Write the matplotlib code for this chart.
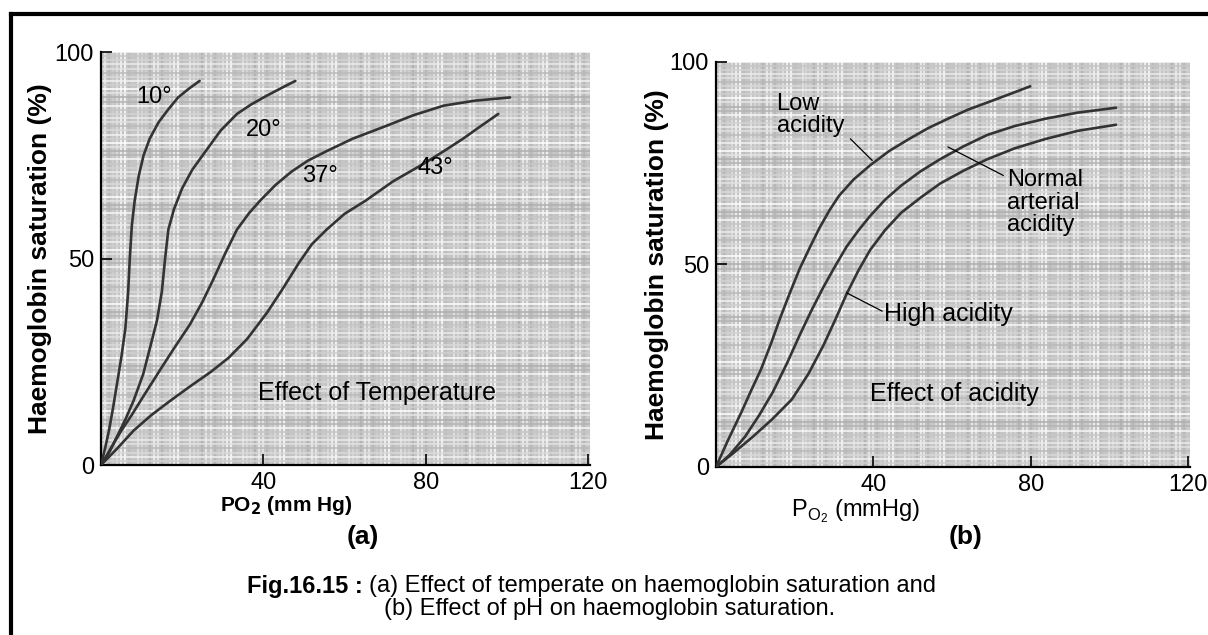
import matplotlib
matplotlib.use("Agg")
import matplotlib.pyplot as plt
from matplotlib.lines import Line2D

plt.rcParams["font.family"] = ["Liberation Sans", "DejaVu Sans"]

# (a) effect of temperature, PO2 (mm Hg) vs saturation (%)
t10_x = [0, 1, 2, 3, 4, 5, 6, 6.7, 7.1, 7.6, 8.3, 9.3, 10.5, 12, 14.2, 16.5, 19, 21.5, 24.3]
t10_y = [0, 4, 8.5, 14, 20, 26, 33, 42, 50, 58, 64, 70, 75, 79, 83, 86, 89, 91, 93]
t20_x = [0, 2, 4, 6, 8, 10.4, 12.5, 13.8, 15, 15.8, 16.6, 18, 20, 22.5, 25.8, 29.5, 33.5,
         37, 41, 44.5, 47.9]
t20_y = [0, 3, 7, 11, 15.5, 22, 30, 35, 42, 50, 57, 62, 67, 71.5, 76, 81, 85,
         87.3, 89.5, 91.3, 93]
t37_x = [0, 3, 5, 7.5, 11, 15.2, 18.5, 21.9, 25, 27.7, 30.5, 33.5, 36.5, 39.2, 43, 46.9,
         51, 55.6, 62, 70, 77, 84.4, 92, 100.8]
t37_y = [0, 5, 8.3, 12, 17.5, 24, 29, 34, 39.5, 45, 51, 57, 61, 64, 67.8, 71,
         73.7, 76, 79, 82, 84.7, 87, 88.2, 89]
t43_x = [0, 4, 8, 12.3, 17, 21.9, 27, 31.5, 36, 41, 45, 48.8, 52, 55.6, 60, 65.2, 72,
         79.6, 84.5, 89.2, 93.5, 97.9]
t43_y = [0, 4, 8.3, 12, 15.5, 19, 22.5, 26, 30.5, 37, 43, 49, 53.5, 57, 60.8, 64, 68.7,
         73, 76, 79, 82, 85]
temp_labels = ["10°", "20°", "37°", "43°"]
temp_label_x = [13, 40, 54, 82.5]
temp_label_y = [89, 81, 70, 72]

# (b) effect of acidity
low_x = [0, 3, 6.4, 9, 11.4, 14, 16.4, 19, 21.3, 24, 26.3, 28.8, 31.3, 35, 39.2, 44,
         49.1, 54, 59, 64, 69, 74.5, 79.9]
low_y = [0, 6.5, 13.4, 19, 24, 30.5, 37, 43.5, 49, 54.5, 59, 63.3, 67, 71, 74.5, 78,
         81, 83.7, 86, 88.2, 90, 92, 94]
norm_x = [0, 3.5, 7.4, 11, 14.4, 18, 21.3, 24.3, 27.3, 30.3, 33.2, 36.2, 39.2, 43, 47.1,
          52, 57, 63, 69, 76, 83.8, 92, 101.7]
norm_y = [0, 3, 7.5, 12.8, 18.4, 25.5, 32.6, 38.7, 44.4, 49.6, 54.4, 58.4, 62, 66, 69.5,
          73, 76, 79.2, 82, 84.2, 86, 87.5, 88.7]
high_x = [0, 4.5, 9.4, 14.3, 19.3, 23.5, 27.3, 30.3, 33.2, 36.2, 39.2, 43, 47.1, 52, 57,
          63, 69, 76, 83.8, 92, 101.7]
high_y = [0, 3.5, 7.5, 11.8, 16.7, 23, 30, 36.3, 42.7, 48.5, 53.6, 58.5, 62.8, 66.5, 70,
          73.2, 76, 78.7, 81, 83, 84.5]

y_ticks = [0, 50, 100]
x_ticks = [40, 80, 120]
paper_cols = ["#f2f2f2", "#b4b4b4", "#e2e2e2", "#ffffff", "#c6c6c6", "#dadada", "#aeaeae",
              "#ececec", "#cfcfcf", "#f8f8f8", "#bababa", "#e6e6e6", "#d4d4d4"]
curve_col = "#333333"


def graph_paper(ax, xmax, ymax):
    ax.set_facecolor("#c4c4c4")
    n = len(paper_cols)
    for i in range(int(xmax) + 1):
        ax.axvline(i, color=paper_cols[(i * 7) % n], lw=1.1, zorder=0)
    for j in range(int(ymax) + 1):
        ax.axhline(j, color=paper_cols[(j * 5 + 3) % n], lw=1.1, zorder=0)


def style_axes(ax):
    ax.set_xlim(0, 120.5)
    ax.set_ylim(0, 100)
    graph_paper(ax, 120, 100)
    ax.set_xticks(x_ticks)
    ax.set_yticks(y_ticks)
    ax.tick_params(direction="in", length=8, width=1.2, labelsize=17, pad=5, colors="black")
    for s in ("top", "right"):
        ax.spines[s].set_visible(False)
    for s in ("left", "bottom"):
        ax.spines[s].set_linewidth(1.6)
    ax.text(-0.125, 0.5, "Haemoglobin saturation (%)", transform=ax.transAxes,
            rotation=90, ha="center", va="center", fontsize=19, fontweight="bold")


fig = plt.figure(figsize=(12.08, 6.35), dpi=100)

ax1 = fig.add_axes([0.0836, 0.2677, 0.4048, 0.6504])
style_axes(ax1)
for xs, ys in [(t10_x, t10_y), (t20_x, t20_y), (t37_x, t37_y), (t43_x, t43_y)]:
    ax1.plot(xs, ys, color=curve_col, lw=1.9, solid_capstyle="round", solid_joinstyle="round",
             zorder=3)
for lab, lx, ly in zip(temp_labels, temp_label_x, temp_label_y):
    ax1.text(lx, ly, lab, fontsize=17, ha="center", va="center", zorder=4)
ax1.text(68, 17.5, "Effect of Temperature", fontsize=18, ha="center", va="center", zorder=4)
ax1.text(0.378, -0.097, r"PO$_\mathbf{2}$ (mm Hg)", transform=ax1.transAxes,
         fontsize=15, fontweight="bold", ha="center", va="center")

ax2 = fig.add_axes([0.5927, 0.2646, 0.3924, 0.6378])
style_axes(ax2)
for xs, ys in [(low_x, low_y), (norm_x, norm_y), (high_x, high_y)]:
    ax2.plot(xs, ys, color=curve_col, lw=1.9, solid_capstyle="round", solid_joinstyle="round",
             zorder=3)
ax2.text(15.4, 87, "Low\nacidity", fontsize=17, ha="left", va="center", linespacing=1.0,
         zorder=4)
ax2.plot([34.2, 39.7], [81, 75.7], color="black", lw=0.9, zorder=4)
ax2.text(73.9, 65.3, "Normal\narterial\nacidity", fontsize=17, ha="left", va="center",
         linespacing=1.05, zorder=4)
ax2.plot([73, 59], [72, 79], color="black", lw=0.9, zorder=4)
ax2.text(42.7, 37.7, "High acidity", fontsize=18, ha="left", va="center", zorder=4)
ax2.plot([42.2, 33.2], [38.5, 43], color="black", lw=0.9, zorder=4)
ax2.text(39.2, 18, "Effect of acidity", fontsize=18, ha="left", va="center", zorder=4)
ax2.text(0.295, -0.109, r"P$_{\mathregular{O_2}}$ (mmHg)", transform=ax2.transAxes,
         fontsize=17, ha="center", va="center")

fig.text(0.300, 1 - 537 / 635, "(a)", fontsize=19, fontweight="bold", ha="center", va="center")
fig.text(0.799, 1 - 537 / 635, "(b)", fontsize=19, fontweight="bold", ha="center", va="center")

# caption, first line is bold label + plain text
cap_y1 = 1 - 586 / 635
cap_y2 = 1 - 609 / 635
cap_bold = fig.text(247 / 1208, cap_y1, "Fig.16.15 : ", fontsize=17,
                    fontweight="bold", ha="left", va="center")
fig.canvas.draw()
bb = cap_bold.get_window_extent()
fig.text(bb.x1 / 1208, cap_y1, "(a) Effect of temperate on haemoglobin saturation and",
         fontsize=17, ha="left", va="center")
fig.text(610 / 1208, cap_y2, "(b) Effect of pH on haemoglobin saturation.",
         fontsize=17, ha="center", va="center")

# page frame: left and top rules
fig.add_artist(Line2D([0.0091, 0.0091], [0.0, 0.978], transform=fig.transFigure,
                      color="black", lw=3))
fig.add_artist(Line2D([0.0091, 1.0], [0.978, 0.978], transform=fig.transFigure,
                      color="black", lw=3))

fig.savefig("out.png", dpi=100)
